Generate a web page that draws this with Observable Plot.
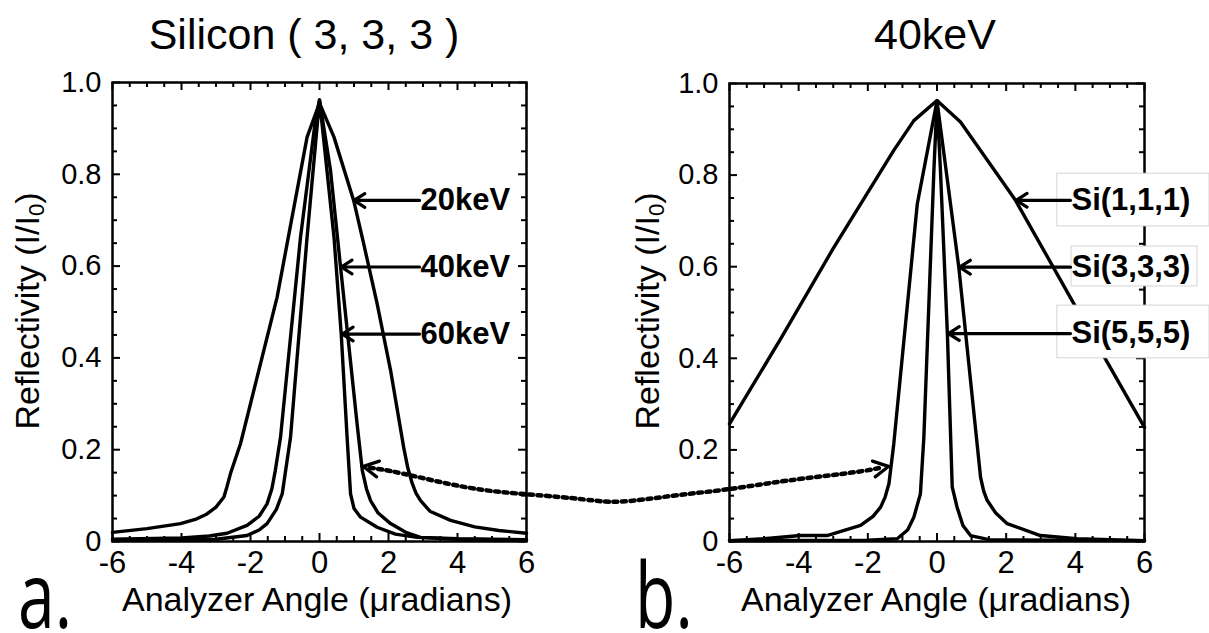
<!DOCTYPE html>
<html>
<head>
<meta charset="utf-8">
<script src="https://cdn.jsdelivr.net/npm/d3@7"></script>
<script src="https://cdn.jsdelivr.net/npm/@observablehq/plot@0.6"></script>
<style>
  body { margin: 0; background: #fff; }
  #fig { position: relative; width: 1209px; height: 633px; background: #fff;
         font-family: "Liberation Sans", Arial, sans-serif; color: #000; }
  .pl { position: absolute; top: 0; }
  .t { position: absolute; white-space: nowrap; line-height: 1; transform: translateX(-50%); }
  .yt { position: absolute; white-space: nowrap; line-height: 1; font-size: 34px;
        transform: translate(-50%, -50%) rotate(-90deg); }
  .yt sub { font-size: 0.65em; vertical-align: -0.22em; line-height: 0; }
  .pan { position: absolute; font-family: "Open Sans", sans-serif; font-size: 66px; line-height: 0.8;
         transform-origin: 0 52px; transform: scale(1, 1.4); }
</style>
</head>
<body>
<div id="fig">
  <div id="left" class="pl" style="left:0px"></div>
  <div id="right" class="pl" style="left:600px"></div>
  <div class="t" style="left:304px;top:12.6px;font-size:43px">Silicon ( 3, 3, 3 )</div>
  <div class="t" style="left:935px;top:12.6px;font-size:43px">40keV</div>
  <div class="t" style="left:317px;top:582px;font-size:34px">Analyzer Angle (μradians)</div>
  <div class="t" style="left:936px;top:582px;font-size:34px">Analyzer Angle (μradians)</div>
  <div class="yt" style="left:27px;top:311px">Reflectivity (I/I<sub>0</sub>)</div>
  <div class="yt" style="left:647px;top:311px">Reflectivity (I/I<sub>0</sub>)</div>
  <div class="pan" style="left:18px;top:576px">a.</div>
  <div class="pan" style="left:635px;top:576px">b.</div>
</div>
<script>
// ---------- tick values ----------
const xMajor = [-6, -4, -2, 0, 2, 4, 6];
const xMinor = [-5.5,-5,-4.5,-3.5,-3,-2.5,-1.5,-1,-0.5,0.5,1,1.5,2.5,3,3.5,4.5,5,5.5];
const yMajor = [0, 0.2, 0.4, 0.6, 0.8, 1.0];
const yMinor = [0.05,0.1,0.15,0.25,0.3,0.35,0.45,0.5,0.55,0.65,0.7,0.75,0.85,0.9,0.95];

// ---------- panel a: Silicon (3,3,3) at three energies ----------
const a20_x = [-6, -5, -4.03, -3.6, -3.26, -3.0, -2.77, -2.68, -2.58, -2.29, -1.23, -0.36, 0, 0.42, 0.99, 1.28, 1.67, 2.06, 2.44, 2.56, 2.69, 2.8, 2.93, 3.2, 3.8, 4.5, 5.2, 6];
const a20_y = [0.02, 0.028, 0.039, 0.048, 0.06, 0.075, 0.097, 0.12, 0.148, 0.213, 0.532, 0.881, 0.955, 0.881, 0.743, 0.649, 0.518, 0.373, 0.205, 0.16, 0.126, 0.105, 0.089, 0.066, 0.046, 0.032, 0.024, 0.018];
const a40_x = [-6, -4, -3.2, -2.68, -2.1, -1.75, -1.52, -1.38, -1.28, -1.13, -0.55, -0.12, 0, 0.32, 0.61, 1.09, 1.24, 1.36, 1.48, 1.7, 2.06, 2.5, 2.93, 4, 6];
const a40_y = [0.005, 0.008, 0.012, 0.018, 0.035, 0.055, 0.082, 0.115, 0.155, 0.227, 0.663, 0.917, 0.962, 0.808, 0.598, 0.256, 0.155, 0.115, 0.089, 0.062, 0.039, 0.02, 0.009, 0.006, 0.004];
const a60_x = [-6, -3, -2.1, -1.75, -1.52, -1.25, -1.08, -0.84, -0.36, 0, 0.42, 0.63, 0.80, 0.90, 1.0, 1.19, 1.67, 2.2, 2.83, 4, 6];
const a60_y = [0.003, 0.005, 0.013, 0.025, 0.039, 0.07, 0.104, 0.227, 0.663, 0.962, 0.663, 0.452, 0.227, 0.104, 0.072, 0.053, 0.031, 0.016, 0.009, 0.005, 0.003];

const aLabels = ["20keV", "40keV", "60keV"];
const aLabelY = [0.743, 0.598, 0.452];
const aTipX = [1.0, 0.63, 0.66];
const aLabelX = 2.9;

// ---------- panel b: 40keV, three reflections ----------
const b111_x = [-6, -4.5, -3, -1.25, -0.67, 0, 0.68, 2.27, 3.96, 6];
const b111_y = [0.257, 0.445, 0.64, 0.854, 0.919, 0.963, 0.916, 0.745, 0.519, 0.249];
const b333_x = [-6, -5, -3.95, -3.18, -2.21, -1.85, -1.63, -1.5, -1.39, -1.25, -0.57, 0, 0.63, 1.26, 1.35, 1.45, 1.7, 2.03, 2.99, 4.05, 6];
const b333_y = [0.002, 0.006, 0.013, 0.013, 0.035, 0.055, 0.075, 0.097, 0.126, 0.213, 0.737, 0.962, 0.599, 0.14, 0.11, 0.09, 0.062, 0.039, 0.013, 0.006, 0.002];
const b555_x = [-6, -2, -1.15, -0.85, -0.67, -0.48, -0.38, -0.09, 0, 0.1, 0.3, 0.44, 0.58, 0.75, 0.97, 1.5, 6];
const b555_y = [0.002, 0.003, 0.006, 0.025, 0.053, 0.104, 0.228, 0.81, 0.962, 0.81, 0.454, 0.119, 0.075, 0.035, 0.013, 0.004, 0.002];

const bLabels = ["Si(1,1,1)", "Si(3,3,3)", "Si(5,5,5)"];
const bLabelY = [0.745, 0.599, 0.454];
const bTipX = [2.29, 0.65, 0.33];
const bLabelX = 3.86;
const bBoxX1 = [3.48, 3.89, 3.48];
const bBoxX2 = [7.88, 7.53, 7.88];
const bBoxY1 = [0.688, 0.557, 0.40];
const bBoxY2 = [0.803, 0.644, 0.515];

// dotted connector, in panel-b data units (extends back into panel a)
const connX = [-16.4, -15.43, -13.58, -11.84, -10.22, -9.15, -7.62, -6.06, -4.32, -2.41, -1.6];
const connY = [0.161, 0.148, 0.118, 0.103, 0.092, 0.087, 0.100, 0.114, 0.133, 0.151, 0.162];
const headX = [-16.59, -1.40];
const headY = [0.164, 0.164];
const headRot = [-80, 80];

// ---------- helpers ----------
const FONT = "Liberation Sans, Arial, sans-serif";
const series = (name, xs, ys) => xs.map((x, i) => ({series: name, x, y: ys[i]}));

// inward ticks: rules spanning only a few pixels at each frame edge
function frameAndTicks(W, H) {
  const s = {stroke: "black", strokeWidth: 2};
  const minor = 5, major = 8;
  return [
    Plot.ruleX(xMinor, {...s, insetTop: H - minor}),
    Plot.ruleX(xMajor, {...s, insetTop: H - major}),
    Plot.ruleX(xMinor, {...s, insetBottom: H - minor}),
    Plot.ruleX(xMajor, {...s, insetBottom: H - major}),
    Plot.ruleY(yMinor, {...s, insetRight: W - minor}),
    Plot.ruleY(yMajor, {...s, insetRight: W - major}),
    Plot.ruleY(yMinor, {...s, insetLeft: W - minor}),
    Plot.ruleY(yMajor, {...s, insetLeft: W - major}),
    Plot.frame({stroke: "black", strokeWidth: 2.5})
  ];
}
function tickLabels() {
  return [
    Plot.axisX({anchor: "bottom", ticks: xMajor, tickSize: 0, tickPadding: 9, label: null,
                tickFormat: d => String(d), fontSize: 31, fontFamily: FONT, fill: "black"}),
    Plot.axisY({anchor: "left", ticks: yMajor, tickSize: 0, tickPadding: 11, label: null,
                tickFormat: d => d === 0 ? "0" : d.toFixed(1), fontSize: 29, fontFamily: FONT, fill: "black"})
  ];
}
const common = {
  height: 633,
  x: {domain: [-6, 6]},
  y: {domain: [0, 1]},
  style: {background: "transparent", overflow: "visible", fontFamily: FONT, color: "black"}
};
const LW = 3.4;

// ---------- panel a ----------
const aData = [
  ...series("20keV", a20_x, a20_y),
  ...series("40keV", a40_x, a40_y),
  ...series("60keV", a60_x, a60_y)
];
const aAnn = aLabels.map((t, i) => ({t, y: aLabelY[i], tip: aTipX[i], x: aLabelX}));

const plotA = Plot.plot({
  ...common,
  width: 600,
  marginLeft: 112, marginRight: 74, marginTop: 82, marginBottom: 92,
  marks: [
    ...frameAndTicks(414, 459),
    Plot.line(aData, {x: "x", y: "y", z: "series", stroke: "black", strokeWidth: LW, strokeLinejoin: "round"}),
    Plot.arrow(aAnn, {x1: "x", y1: "y", x2: "tip", y2: "y", stroke: "black", strokeWidth: 3.2, headLength: 6, headAngle: 65}),
    Plot.text(aAnn, {x: "x", y: "y", text: "t", textAnchor: "start", dx: 1, fontWeight: "bold", fontSize: 31, fontFamily: FONT, fill: "black"}),
    ...tickLabels()
  ]
});
document.getElementById("left").append(plotA);

// ---------- panel b ----------
const bData = [
  ...series("Si(1,1,1)", b111_x, b111_y),
  ...series("Si(3,3,3)", b333_x, b333_y),
  ...series("Si(5,5,5)", b555_x, b555_y)
];
const bAnn = bLabels.map((t, i) => ({t, y: bLabelY[i], tip: bTipX[i], x: bLabelX}));
const bBoxes = bBoxX1.map((x1, i) => ({x1, x2: bBoxX2[i], y1: bBoxY1[i], y2: bBoxY2[i]}));
const conn = connX.map((x, i) => ({x, y: connY[i]}));
const heads = headX.map((x, i) => ({x, y: headY[i], a: headRot[i]}));
const chevron = {draw(context, l, r) { context.moveTo(-r, l); context.lineTo(0, 0); context.lineTo(r, l); }};

const plotB = Plot.plot({
  ...common,
  width: 609,
  marginLeft: 129, marginRight: 65, marginTop: 83, marginBottom: 92,
  marks: [
    ...frameAndTicks(415, 458),
    Plot.line(bData, {x: "x", y: "y", z: "series", stroke: "black", strokeWidth: LW, strokeLinejoin: "round"}),
    Plot.rect(bBoxes, {x1: "x1", x2: "x2", y1: "y1", y2: "y2", fill: "white", stroke: "#d4d4d4", strokeWidth: 1}),
    Plot.arrow(bAnn, {x1: "x", y1: "y", x2: "tip", y2: "y", stroke: "black", strokeWidth: 3.2, headLength: 6, headAngle: 65}),
    Plot.text(bAnn, {x: "x", y: "y", text: "t", textAnchor: "start", dx: 1, fontWeight: "bold", fontSize: 31, fontFamily: FONT, fill: "black"}),
    Plot.line(conn, {x: "x", y: "y", curve: "natural", stroke: "black", strokeWidth: 4.5, strokeDasharray: "4,4.5"}),
    Plot.vector(heads, {x: "x", y: "y", rotate: "a", length: 15, r: 8, shape: chevron, anchor: "start",
                        stroke: "black", strokeWidth: 3.2, strokeLinejoin: "miter"}),
    ...tickLabels()
  ]
});
document.getElementById("right").append(plotB);
</script>
</body>
</html>
